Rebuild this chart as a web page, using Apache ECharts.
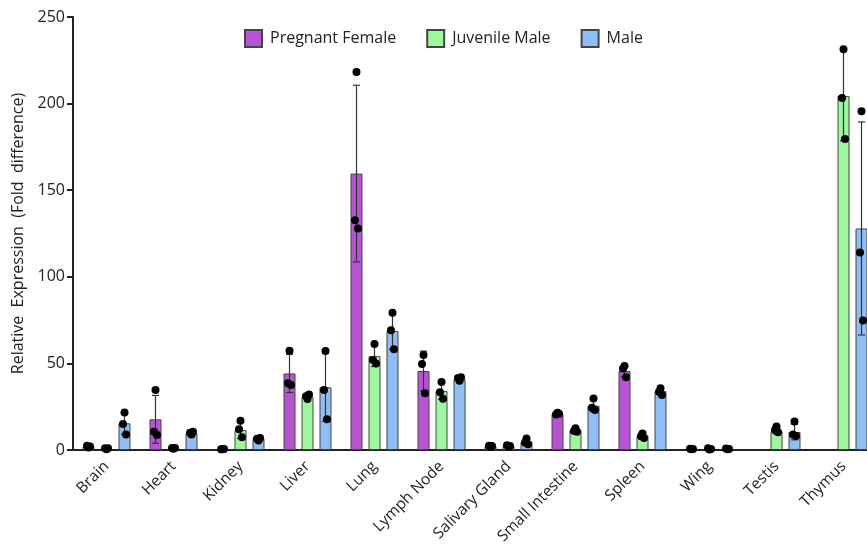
<!DOCTYPE html>
<html>
<head>
<meta charset="utf-8">
<script src="https://cdn.jsdelivr.net/npm/echarts@6/dist/echarts.min.js"></script>
<style>
  html, body { margin: 0; padding: 0; background: #fff; overflow: hidden; }
  /* the plot runs past the right edge in the original, so the canvas is a bit wider than the window */
  #main { width: 877px; height: 553px; }
</style>
</head>
<body>
<div id="main"></div>
<script>
var tissues = ['Brain', 'Heart', 'Kidney', 'Liver', 'Lung', 'Lymph Node', 'Salivary Gland',
  'Small Intestine', 'Spleen', 'Wing', 'Testis', 'Thymus'];
var yTicks = [0, 50, 100, 150, 200, 250];

// bar heights (mean), error (SD) and the individual replicate dots
var pregMean = [2, 17.7, 0.5, 44.2, 159.6, 45.6, 2.2, 20.8, 45.6, 0.6, null, null];
var pregSd = [0.8, 13.8, 0.2, 11, 51, 11.5, 0.6, 0.8, 3.5, 0.2, null, null];
var pregDots = [[1.5, 2.5, 2], [34.6, 10.6, 8.7], [0.4, 0.5, 0.6], [57.3, 38.5, 37.5],
  [218.3, 132.7, 127.9], [54.8, 49.6, 32.7], [1.8, 2.5, 2.3], [21.5, 20.5, 21],
  [48.5, 47.1, 42], [0.5, 0.7, 0.6], [], []];

var juvMean = [0.8, 1, 11.5, 30.8, 54.2, 34, 2.2, 11.5, 8.2, 0.6, 11, 204.4];
var juvSd = [0.3, 0.4, 4.8, 1.2, 6, 4.8, 0.6, 1, 1.2, 0.4, 1.7, 25.9];
var juvDots = [[0.5, 1, 1], [0.7, 1.2, 1.1], [16.9, 12, 7.3], [29.5, 31, 32],
  [61.2, 51.9, 50], [39.2, 33.3, 29.6], [2, 2.8, 2.3], [12.5, 11, 10.5],
  [9.5, 8, 7], [0.3, 1, 0.6], [13.5, 11.5, 10.2], [231.4, 203.3, 179.6]];

var maleMean = [15.4, 9.6, 6.7, 36.2, 68.7, 41, 4.8, 25.6, 34, 0.6, 10.4, 127.9];
var maleSd = [6.3, 0.8, 0.8, 19.7, 10.5, 1, 1.7, 3.5, 2, 0.3, 4.5, 61.5];
var maleDots = [[21.7, 15, 9], [9, 10, 10.5], [5.5, 6.5, 7], [57.1, 34.6, 17.7],
  [79.2, 69.2, 58.1], [40, 41.5, 42], [6.7, 4.4, 3.3], [29.8, 24.4, 23.1],
  [35.6, 33.7, 31.7], [0.5, 0.8, 0.6], [16.5, 9, 8.1], [195.6, 114.1, 74.8]];

var groups = [
  { name: 'Pregnant Female', color: '#b953d6', mean: pregMean, sd: pregSd, dots: pregDots },
  { name: 'Juvenile Male', color: '#9cf89d', mean: juvMean, sd: juvSd, dots: juvDots },
  { name: 'Male', color: '#8fbdf6', mean: maleMean, sd: maleSd, dots: maleDots }
];

var barW = 12, step = 18;
var jitter = [0, -1.5, 1.5];
var font = '"Open Sans", "Liberation Sans", sans-serif';

var series = [];
groups.forEach(function (g, gi) {
  var off = (gi - 1) * step;
  series.push({
    name: g.name, type: 'bar', data: g.mean, barWidth: barW, barGap: '50%',
    itemStyle: { color: g.color, borderColor: '#444', borderWidth: 1 }
  });
  var err = [];
  g.mean.forEach(function (m, i) {
    if (m != null) err.push([i, m - g.sd[i], m + g.sd[i]]);
  });
  series.push({
    type: 'custom', data: err, z: 3,
    encode: { x: 0, y: [1, 2] },
    renderItem: function (params, api) {
      var lo = api.coord([api.value(0), api.value(1)]);
      var hi = api.coord([api.value(0), api.value(2)]);
      var x = lo[0] + off, c = 3.5;
      var st = { stroke: '#333', lineWidth: 1.2 };
      return { type: 'group', children: [
        { type: 'line', shape: { x1: x, y1: lo[1], x2: x, y2: hi[1] }, style: st },
        { type: 'line', shape: { x1: x - c, y1: lo[1], x2: x + c, y2: lo[1] }, style: st },
        { type: 'line', shape: { x1: x - c, y1: hi[1], x2: x + c, y2: hi[1] }, style: st }
      ] };
    }
  });
  var pts = [];
  g.dots.forEach(function (arr, i) {
    arr.forEach(function (v, k) {
      pts.push({ value: [i, v], symbolOffset: [off + jitter[k], 0] });
    });
  });
  series.push({
    type: 'scatter', data: pts, symbolSize: 8, z: 4,
    itemStyle: { color: '#000', opacity: 1 }
  });
});

var chart = echarts.init(document.getElementById('main'));
chart.setOption({
  animation: false,
  legend: {
    data: groups.map(function (g) { return g.name; }),
    left: 239, top: 24, itemWidth: 17, itemHeight: 17, itemGap: 30, icon: 'rect',
    textStyle: { fontFamily: font, fontSize: 16, color: '#222', padding: [0, 0, 0, 3] }
  },
  grid: { left: 73, right: 0, top: 17, bottom: 103 },
  xAxis: {
    type: 'category', data: tissues,
    axisLine: { lineStyle: { color: '#222', width: 2 } },
    axisTick: { show: false },
    axisLabel: { rotate: 45, fontFamily: font, fontSize: 15.5, color: '#222', margin: 14, interval: 0 }
  },
  yAxis: {
    type: 'value', min: 0, max: 250, interval: 50,
    name: 'Relative  Expression  (Fold  difference)', nameLocation: 'middle', nameGap: 46,
    nameTextStyle: { fontFamily: font, fontSize: 16, color: '#222' },
    axisLine: { show: true, lineStyle: { color: '#222', width: 2 } },
    axisTick: { show: true, length: 6, lineStyle: { width: 2 } },
    axisLabel: { fontFamily: font, fontSize: 16, color: '#222', margin: 8,
      formatter: function (v) { return yTicks.indexOf(v) >= 0 ? v : ''; } },
    splitLine: { show: false }
  },
  series: series
});
</script>
</body>
</html>
